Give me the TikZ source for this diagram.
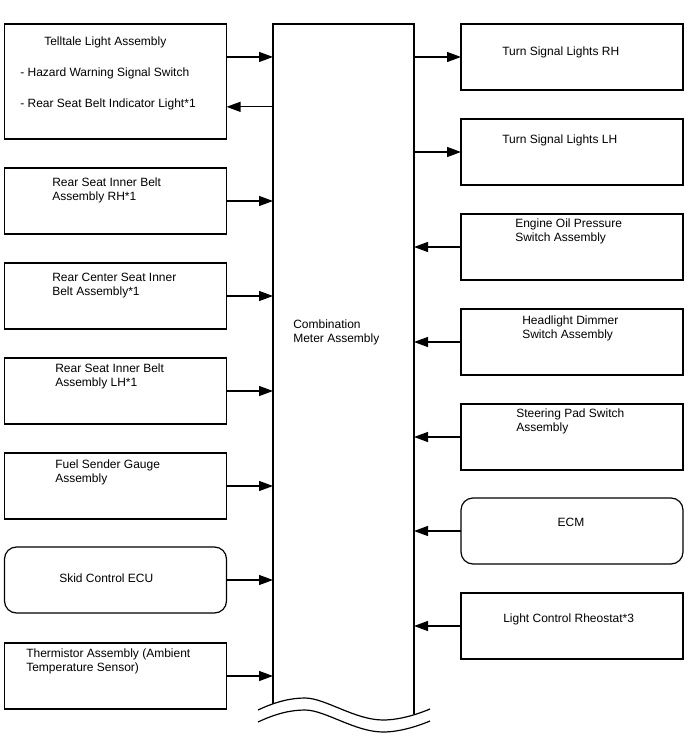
\documentclass[tikz,border=0pt]{standalone}
\usepackage{fontspec}
\setmainfont{Liberation Sans}
\usetikzlibrary{arrows.meta}

\tikzset{
  unit/.style={draw, line width=0.9pt, inner sep=0pt, outer sep=0pt,
    minimum width=166.5pt, minimum height=49.5pt, anchor=north west},
  ecu/.style={unit, rounded corners=9pt},
  txt/.style={font=\fontsize{9pt}{10.5pt}\selectfont, inner sep=0pt,
    align=left, anchor=base west},
  arr/.style={line width=0.9pt, -{Triangle[length=10.5pt,width=7.5pt]}},
}

\begin{document}
\begin{tikzpicture}[x=0.75pt,y=-0.75pt]
  \useasboundingbox (0,0) rectangle (688,755);

  % left side
  \node[unit, minimum height=86.25pt] (tell) at (4.5,24) {};
  \node[unit] (rsirh) at (4.5,168) {};
  \node[unit] (rcsib) at (4.5,263) {};
  \node[unit] (rsilh) at (4.5,358) {};
  \node[unit] (fuel)  at (4.5,453) {};
  \node[ecu]  (skid)  at (4.5,547) {};
  \node[unit] (therm) at (4.5,643) {};

  % (base of a two-line text is its last line)
  \node[txt] at (44,46)  {Telltale Light Assembly};
  \node[txt] at (20,77)  {- Hazard Warning Signal Switch};
  \node[txt] at (20,108) {- Rear Seat Belt Indicator Light*1};
  \node[txt] at (52,201) {Rear Seat Inner Belt\\Assembly RH*1};
  \node[txt] at (52,295) {Rear Center Seat Inner\\Belt Assembly*1};
  \node[txt] at (55,386) {Rear Seat Inner Belt\\Assembly LH*1};
  \node[txt] at (55,482) {Fuel Sender Gauge\\Assembly};
  \node[txt] at (59,582) {Skid Control ECU};
  \node[txt] at (26,671) {Thermistor Assembly (Ambient\\Temperature Sensor)};

  % meter
  \node[inner sep=0pt, outer sep=0pt, minimum width=105.75pt,
    minimum height=510pt, anchor=north west] (meter) at (273,24) {};
  \draw[line width=0.9pt] (273,704) |- (414,24) -- (414,714);
  \draw[line width=0.9pt] (258,710) .. controls (275,702) and (290,698) .. (305,698)
    .. controls (325,698) and (355,720) .. (383,720)
    .. controls (400,720) and (418,714) .. (430,709);
  \draw[line width=0.9pt] (258,722) .. controls (275,714) and (290,710) .. (305,710)
    .. controls (325,710) and (355,732) .. (383,732)
    .. controls (400,732) and (418,726) .. (430,721);
  \node[txt] at (293,342) {Combination\\Meter Assembly};

  % right side
  \node[unit] (tsrh)   at (461,24)  {};
  \node[unit] (tslh)   at (461,119) {};
  \node[unit] (oil)    at (461,214) {};
  \node[unit] (dimmer) at (461,309) {};
  \node[unit] (pad)    at (461,404) {};
  \node[ecu]  (ecm)    at (461,498) {};
  \node[unit] (rheo)   at (461,593) {};

  \node[txt] at (502,56)  {Turn Signal Lights RH};
  \node[txt] at (502,144) {Turn Signal Lights LH};
  \node[txt] at (515,242) {Engine Oil Pressure\\Switch Assembly};
  \node[txt] at (522,338) {Headlight Dimmer\\Switch Assembly};
  \node[txt] at (516,431) {Steering Pad Switch\\Assembly};
  \node[txt, anchor=base] at (571,526) {ECM};
  \node[txt] at (503,622) {Light Control Rheostat*3};

  % connections
  \draw[arr] ([yshift=18.4pt]tell.east) -- ([yshift=18.4pt]tell.east -| meter.west);
  \draw[arr] ([yshift=-19pt]tell.east -| meter.west) -- ([yshift=-19pt]tell.east);
  \foreach \n in {rsirh,rcsib,rsilh,fuel,skid,therm}
    \draw[arr] (\n.east) -- (\n.east -| meter.west);
  \foreach \n in {tsrh,tslh}
    \draw[arr] (\n.west -| meter.east) -- (\n.west);
  \foreach \n in {oil,dimmer,pad,ecm,rheo}
    \draw[arr] (\n.west) -- (\n.west -| meter.east);
\end{tikzpicture}
\end{document}
